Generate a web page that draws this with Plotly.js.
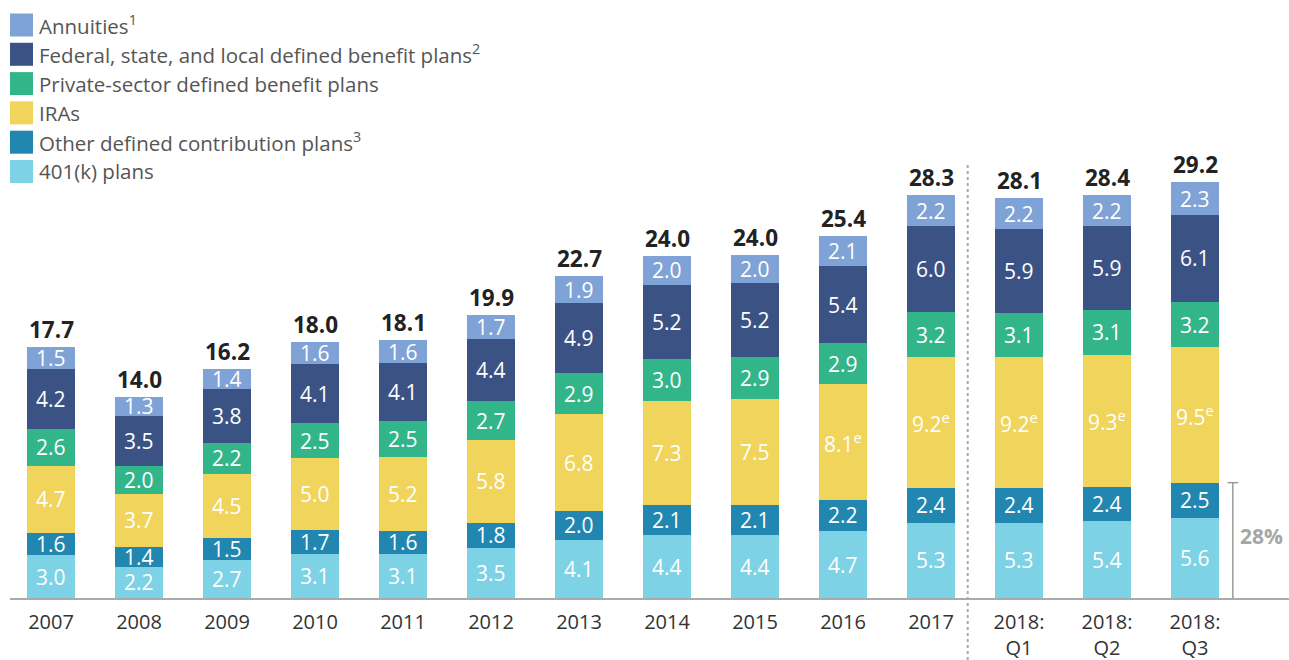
<!DOCTYPE html>
<html><head><meta charset="utf-8">
<script src="https://cdn.plot.ly/plotly-3.0.1.min.js"></script>
<style>html,body{margin:0;padding:0;background:#fff;}#chart{width:1289px;height:660px;}</style>
</head><body><div id="chart"></div>
<script>
const categories = ["2007","2008","2009","2010","2011","2012","2013","2014","2015","2016","2017","2018:<br>Q1","2018:<br>Q2","2018:<br>Q3"];
const k401 = [3.0,2.2,2.7,3.1,3.1,3.5,4.1,4.4,4.4,4.7,5.3,5.3,5.4,5.6];
const otherDC = [1.6,1.4,1.5,1.7,1.6,1.8,2.0,2.1,2.1,2.2,2.4,2.4,2.4,2.5];
const iras = [4.7,3.7,4.5,5.0,5.2,5.8,6.8,7.3,7.5,8.1,9.2,9.2,9.3,9.5];
const iraEstimated = [false,false,false,false,false,false,false,false,false,true,true,true,true,true];
const privateDB = [2.6,2.0,2.2,2.5,2.5,2.7,2.9,3.0,2.9,2.9,3.2,3.1,3.1,3.2];
const govDB = [4.2,3.5,3.8,4.1,4.1,4.4,4.9,5.2,5.2,5.4,6.0,5.9,5.9,6.1];
const annuities = [1.5,1.3,1.4,1.6,1.6,1.7,1.9,2.0,2.0,2.1,2.2,2.2,2.2,2.3];
const totals = [17.7,14.0,16.2,18.0,18.1,19.9,22.7,24.0,24.0,25.4,28.3,28.1,28.4,29.2];
const shareLabel = "28%";

const FONT = "Open Sans, Noto Sans, sans-serif";
const idx = categories.map((c,i)=>i);
const fmt = v => v.toFixed(1);

const series = [
  {name:"401(k) plans", vals:k401, color:"#7dd2e5"},
  {name:"Other defined contribution plans<sup>3</sup>", vals:otherDC, color:"#2187b0"},
  {name:"IRAs", vals:iras, color:"#f0d45c", est:iraEstimated},
  {name:"Private-sector defined benefit plans", vals:privateDB, color:"#33b58a"},
  {name:"Federal, state, and local defined benefit plans<sup>2</sup>", vals:govDB, color:"#3b5384"},
  {name:"Annuities<sup>1</sup>", vals:annuities, color:"#7fa3d6"}
];

const traces = series.map(s => ({
  type:"bar", x:idx, y:s.vals, name:s.name,
  marker:{color:s.color, line:{width:0}},
  hoverinfo:"skip", showlegend:false
}));

const annotations = [];
// segment labels
const base = idx.map(()=>0);
series.forEach(s => {
  idx.forEach(i => {
    const mid = base[i] + s.vals[i]/2;
    base[i] += s.vals[i];
    annotations.push({x:i, y:mid, xref:"x", yref:"y",
      text: fmt(s.vals[i]) + (s.est && s.est[i] ? "<sup>e</sup>" : ""),
      showarrow:false, xanchor:"center", yanchor:"middle", borderpad:0,
      font:{family:FONT, size:21, color:"#ffffff", weight:500}});
  });
});
const stackTop = base.slice();

idx.forEach(i => annotations.push({
  x:i, y:stackTop[i], xref:"x", yref:"y", text:"<b>"+fmt(totals[i])+"</b>",
  showarrow:false, yanchor:"bottom", yshift:1, borderpad:0,
  font:{family:FONT, size:22.5, color:"#222222"}
}));

// Legend (drawn manually, top = last series)
const shapes = [];
const legendOrder = series.slice().reverse();
const rowY0 = 25, rowStep = 29.3;
legendOrder.forEach((s,k) => {
  const cy = rowY0 + k*rowStep;
  shapes.push({type:"rect", xref:"paper", yref:"paper",
    x0:0/1279, x1:23/1279, y0:(598-(cy+11.5))/598, y1:(598-(cy-11.5))/598,
    fillcolor:s.color, line:{width:0}});
  annotations.push({xref:"paper", yref:"paper", x:27/1279, y:(598-cy)/598,
    xanchor:"left", yanchor:"middle", showarrow:false, text:s.name,
    font:{family:FONT, size:20.5, color:"#555555"}});
});

// dashed separator between annual and quarterly
shapes.push({type:"line", xref:"x", yref:"paper", x0:10.417, x1:10.417,
  y0:-62/598, y1:(598-165)/598, line:{color:"#aaaaaa", width:2, dash:"dot"}});

// bracket for 401(k)+other DC share
const lastI = idx.length-1;
const bracketTop = k401[lastI] + otherDC[lastI];
shapes.push({type:"line", xref:"x", yref:"y", x0:lastI+0.43, x1:lastI+0.43, y0:0, y1:bracketTop,
  line:{color:"#999999", width:1.5}});
shapes.push({type:"line", xref:"x", yref:"y", x0:lastI+0.37, x1:lastI+0.49, y0:bracketTop, y1:bracketTop,
  line:{color:"#999999", width:1.5}});
annotations.push({x:lastI+0.76, y:bracketTop/2+0.3, xref:"x", yref:"y", text:"<b>"+shareLabel+"</b>",
  showarrow:false, font:{family:FONT, size:21, color:"#a6a6a6"}});

const layout = {
  width:1289, height:660,
  margin:{l:10, r:0, t:0, b:62},
  paper_bgcolor:"#ffffff", plot_bgcolor:"#ffffff",
  barmode:"stack", bargap:0.455,
  showlegend:false,
  xaxis:{type:"linear", range:[-41/88, 1238/88], tickmode:"array", tickvals:idx, ticktext:categories,
    showgrid:false, zeroline:false, showline:true, linecolor:"#aaaaaa", linewidth:2,
    ticks:"", ticklabelstandoff:5, tickfont:{family:FONT, size:20, color:"#333333"}, fixedrange:true},
  yaxis:{range:[0, 598/14.24], visible:false, showgrid:false, zeroline:false, fixedrange:true},
  shapes:shapes, annotations:annotations,
  font:{family:FONT}
};

Plotly.newPlot("chart", traces, layout, {displayModeBar:false, staticPlot:true});
</script>
</body></html>
